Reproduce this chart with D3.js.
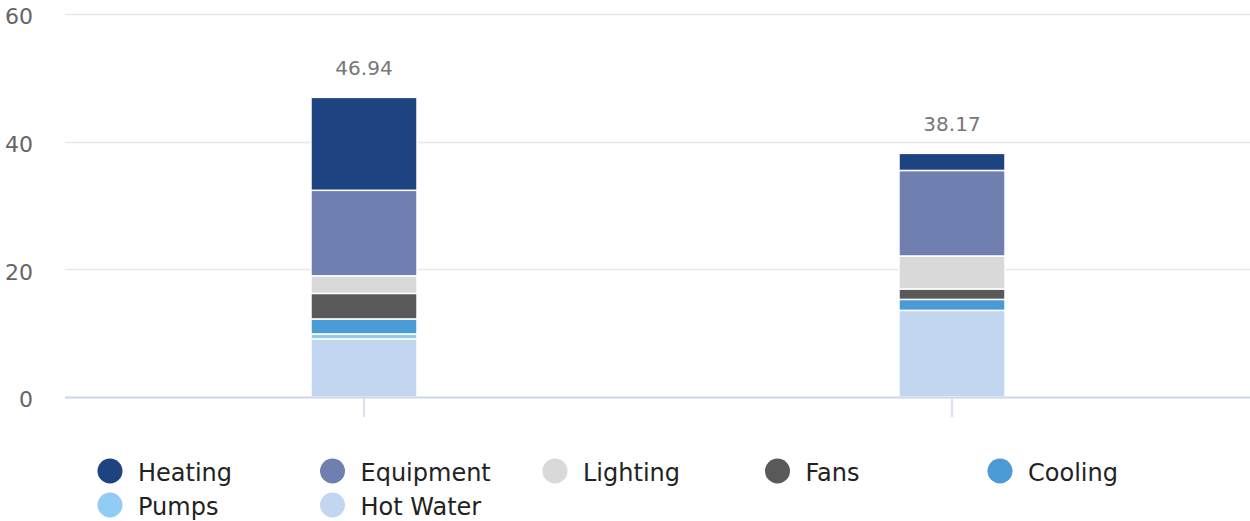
<!DOCTYPE html>
<html>
<head>
<meta charset="utf-8">
<script src="https://cdn.jsdelivr.net/npm/d3@7"></script>
<style>
  html, body { margin: 0; padding: 0; background: #ffffff; }
  svg { display: block; }
</style>
</head>
<body>
<svg id="chart" width="1250" height="521"></svg>
<script>
const categories = ["Baseline", "Proposed"];
const seriesNames = ["Heating", "Equipment", "Lighting", "Fans", "Cooling", "Pumps", "Hot Water"];
const heating   = [14.56, 2.68];
const equipment = [13.40, 13.40];
const lighting  = [2.75, 5.16];
const fans      = [4.00, 1.64];
const cooling   = [2.35, 1.72];
const pumps     = [0.78, 0.00];
const hotWater  = [9.10, 13.57];
const totals    = [46.94, 38.17];
const yTicks    = [0, 20, 40, 60];
const colors    = ["#1d4381", "#6e7fb0", "#d9d9d9", "#595959", "#4a9ad6", "#91cdf3", "#c2d6ef"];

const seriesValues = [heating, equipment, lighting, fans, cooling, pumps, hotWater];

const svg = d3.select("#chart");
const W = 1250, H = 521;
const plot = { left: 70, right: 1246, top: 14, bottom: 397 };
const FONT = "'DejaVu Sans', Verdana, sans-serif";

const x = d3.scaleBand().domain(categories).range([plot.left, plot.right]).paddingInner(0).paddingOuter(0);
const y = d3.scaleLinear().domain([0, 60]).range([plot.bottom, plot.top]);
const barW = 106;

// gridlines
const grid = svg.append("g");
grid.selectAll("line").data(yTicks.filter(d => d !== 0)).enter().append("line")
  .attr("x1", 65).attr("x2", W)
  .attr("y1", d => Math.round(y(d)) + 0.5).attr("y2", d => Math.round(y(d)) + 0.5)
  .attr("stroke", "#e8e8e8").attr("stroke-width", 1.5);

// y axis labels
const yAxis = d3.axisLeft(y).tickValues(yTicks).tickSize(0).tickPadding(0);
const yg = svg.append("g").attr("transform", `translate(33,2)`).call(yAxis);
yg.select(".domain").remove();
yg.selectAll("text")
  .attr("font-family", FONT).attr("font-size", 22)
  .attr("fill", "#666666").attr("dy", "0.36em");

// stacked data
const table = categories.map((c, i) => {
  const o = { cat: c };
  seriesNames.forEach((s, j) => { o[s] = seriesValues[j][i]; });
  return o;
});
const stackOrder = seriesNames.slice().reverse(); // Hot Water at bottom
const stack = d3.stack().keys(stackOrder);
const stacked = stack(table);

const bars = svg.append("g");
stacked.forEach(layer => {
  const color = colors[seriesNames.indexOf(layer.key)];
  bars.selectAll(null).data(layer.filter(d => d[1] - d[0] > 0)).enter().append("rect")
    .attr("x", d => x(d.data.cat) + x.bandwidth() / 2 - barW / 2)
    .attr("width", barW)
    .attr("y", d => y(d[1]))
    .attr("height", d => y(d[0]) - y(d[1]))
    .attr("fill", color)
    .attr("stroke", "#ffffff").attr("stroke-width", 1.5);
});

// x axis line and ticks
const xAxis = d3.axisBottom(x).tickSize(20).tickFormat("");
const xg = svg.append("g").attr("transform", `translate(0,${plot.bottom})`).call(xAxis);
xg.select(".domain").attr("d", `M65,0.5H${W}`).attr("stroke", "#ccd6eb").attr("stroke-width", 2);
xg.selectAll(".tick line").attr("stroke", "#ccd6eb").attr("stroke-width", 1.5);

// totals labels
svg.append("g").selectAll("text").data(categories).enter().append("text")
  .attr("x", d => x(d) + x.bandwidth() / 2)
  .attr("y", (d, i) => y(totals[i]) - 22)
  .attr("text-anchor", "middle")
  .attr("font-family", FONT).attr("font-size", 20)
  .attr("fill", "#777777")
  .text((d, i) => totals[i].toFixed(2));

// legend
const legend = svg.append("g");
seriesNames.forEach((s, i) => {
  const col = i % 5, row = Math.floor(i / 5);
  const cx = 110 + col * 222.5;
  const cy = 471 + row * 34;
  legend.append("circle").attr("cx", cx).attr("cy", cy).attr("r", 12.5).attr("fill", colors[i]);
  legend.append("text").attr("x", cx + 28).attr("y", cy + 1).attr("dy", "0.36em")
    .attr("font-family", FONT).attr("font-size", 24)
    .attr("fill", "#222222").text(s);
});
</script>
</body>
</html>
